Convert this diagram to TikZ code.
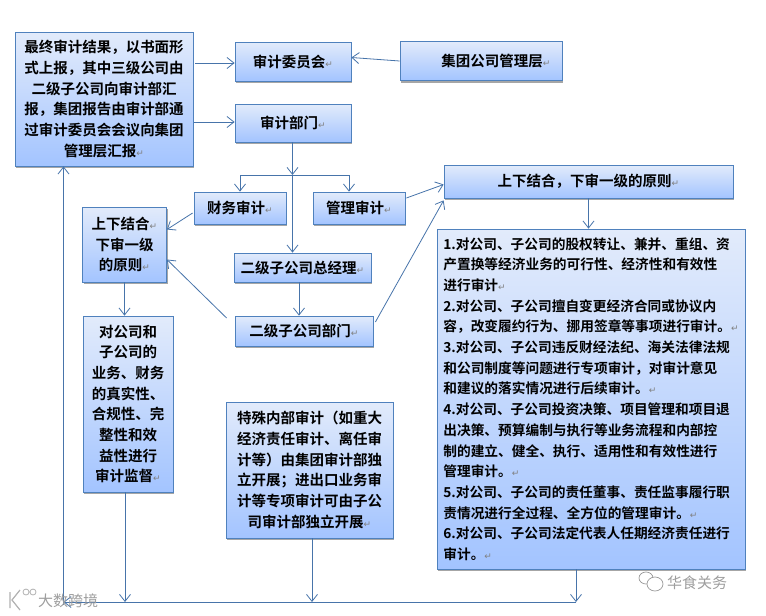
\documentclass[tikz,border=0pt]{standalone}
\usepackage{fontspec}
\setmainfont{Noto Sans CJK SC}[BoldFont={Noto Sans CJK SC Bold}]
\newfontfamily\djv{DejaVu Sans}
\usetikzlibrary{arrows.meta,shadows,calc}
\definecolor{edge}{HTML}{4F81BD}
\definecolor{boxtop}{HTML}{E2EBFB}
\definecolor{boxbot}{HTML}{A3C4FF}
\newcommand{\rmk}{{\djv\mdseries\fontsize{9}{9}\selectfont\textcolor{gray}{↵}}}
\tikzset{
  box/.style={draw=edge,line width=.8pt,top color=boxtop,bottom color=boxbot,inner sep=0pt,
    align=center,font=\fontsize{14.5}{20.7}\selectfont\bfseries,
    drop shadow={shadow xshift=1pt,shadow yshift=-2pt,fill=black,opacity=.35}},
  arr/.style={draw=edge!90!black,line width=.8pt,-{Straight Barb[length=7pt,width=11pt,line width=.8pt]}},
  wm/.style={text=black!38,font=\fontsize{15}{15}\selectfont,inner sep=0pt}
}
\begin{document}
\begin{tikzpicture}[x=1pt,y=-1pt]
\useasboundingbox (0,0) rectangle (766,616);
\fill[white] (0,0) rectangle (766,616);
\node[box,minimum width=178pt,minimum height=134pt] (A) at (104,99)
 {最终审计结果，以书面形\\式上报，其中三级公司由\\二级子公司向审计部汇\\报，集团报告由审计部通\\过审计委员会会议向集团\\管理层汇报\rmk};
\node[box,minimum width=116pt,minimum height=39pt] (wy) at (293,61.5) {审计委员会\rmk};
\node[box,minimum width=162pt,minimum height=39pt] (mg) at (481,61) {\hspace*{30pt}集团公司管理层\rmk};
\node[box,minimum width=116pt,minimum height=38pt] (dept) at (293,123) {审计部门\rmk};
\node[box,minimum width=92pt,minimum height=32pt] (fin) at (240,208) {财务审计\rmk};
\node[box,minimum width=92pt,minimum height=32pt] (man) at (359,208) {管理审计\rmk};
\node[box,minimum width=84pt,minimum height=75pt] (prin) at (124.5,244.5) {上下结合\rmk\\下审一级\\的原则\rmk};
\node[box,minimum width=137pt,minimum height=29pt] (gm) at (302.5,267.5) {二级子公司总经理\rmk};
\node[box,minimum width=138pt,minimum height=30pt] (sub) at (304,331) {二级子公司部门\rmk};
\node[box,minimum width=90pt,minimum height=176pt] (sup) at (128,404) {对公司和\\子公司的\\业务、财务\\的真实性、\\合规性、完\\整性和效\\益性进行\\审计监督\rmk};
\node[box,minimum width=167pt,minimum height=136pt] (spec) at (309.5,470) {特殊内部审计（如重大\\经济责任审计、离任审\\计等）由集团审计部独\\立开展；进出口业务审\\计等专项审计可由子公\\司审计部独立开展\rmk};
\node[box,minimum width=289pt,minimum height=33pt] (prinR) at (588.5,181.5) {上下结合，下审一级的原则\rmk};
\node[box,minimum width=308pt,minimum height=340pt,align=left,font=\fontsize{13.7}{20.7}\selectfont\bfseries] (list) at (591,399)
 {1.对公司、子公司的股权转让、兼并、重组、资\\产置换等经济业务的可行性、经济性和有效性\\进行审计\rmk\\2.对公司、子公司擅自变更经济合同或协议内\\容，改变履约行为、挪用签章等事项进行审计。\rmk\\3.对公司、子公司违反财经法纪、海关法律法规\\和公司制度等问题进行专项审计，对审计意见\\和建议的落实情况进行后续审计。\rmk\\4.对公司、子公司投资决策、项目管理和项目退\\出决策、预算编制与执行等业务流程和内部控\\制的建立、健全、执行、适用性和有效性进行\\管理审计。\rmk\\5.对公司、子公司的责任董事、责任监事履行职\\责情况进行全过程、全方位的管理审计。\rmk\\6.对公司、子公司法定代表人任期经济责任进行\\审计。\rmk};
\coordinate (branch) at (292.5,175);
\coordinate (busL) at (63.5,602);
\coordinate (busR) at (576,602);
\draw[arr] ($(A.east)+(2,-36)$) -- (wy.west |- {$(A.east)+(2,-36)$});
\draw[arr] ($(A.east)+(1,23)$) -- (dept.west |- {$(A.east)+(1,23)$});
\draw[arr] (mg.west) -- ($(wy.east)+(0,-4)$);
\draw[arr] (dept.south -| branch) -- (branch);
\draw[arr] (branch) -- (gm.north -| branch);
\draw[arr] (branch) -| (fin.north);
\draw[arr] (branch) -| ($(man.north)+(-10,0)$);
\draw[arr] ($(fin.west)+(-1,5)$) -- ($(prin.east)+(0,-15)$);
\draw[arr] ($(sub.west)+(-8,-13)$) -- ($(prin.east)+(0,15)$);
\draw[arr] (gm.south -| sub.north) ++(-5,0) -- ($(sub.north)+(-5,0)$);
\draw[arr] (prin.south) -- (prin.south |- sup.north);
\draw[arr] ($(man.east)+(1,-10)$) -- ($(prinR.west)+(0,3)$);
\draw[arr] ($(sub.east)+(2,-9)$) -- ($(prinR.south west)+(0,2)$);
\draw[arr] (prinR.south) -- (list.north -| prinR.south);
\draw[arr] (sup.south -| 125,0) -- (125,602);
\draw[arr] (spec.south -| 312,0) -- (312,602);
\draw[arr] (list.south -| busR) -- (busR);
\draw[arr] (busR) -- (busL);
\draw[arr] ($(busL)+(0,3)$) -- (A.south -| busL);
% watermarks
\node[wm,anchor=west] (w1) at (38,601) {大数跨境};
\node[wm,anchor=west] (w2) at (667,583) {华食关务};
\draw[black!40,line width=.7pt] (646,578) ellipse [x radius=7,y radius=6];
\draw[black!40,line width=.7pt,fill=white] (655,584) ellipse [x radius=8,y radius=7];
\draw[black!30,line width=1.2pt] (10,592) -- (10,608) (20,590) -- (12,600) -- (20,610);
\draw[black!30,line width=.8pt] (26,592) circle (3) (33,592) circle (3);
\end{tikzpicture}
\end{document}
